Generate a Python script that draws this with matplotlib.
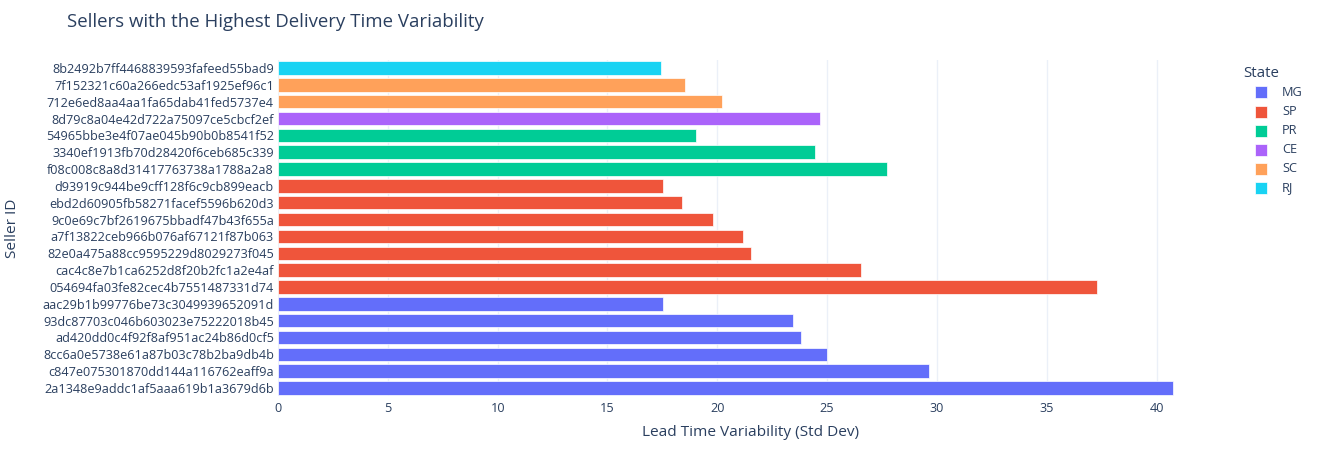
import matplotlib
matplotlib.use("Agg")
import matplotlib.pyplot as plt
from matplotlib.patches import Rectangle

plt.rcParams['font.family'] = ['Open Sans', 'DejaVu Sans']

# Data (bottom to top)
sellers = [
    "2a1348e9addc1af5aaa619b1a3679d6b",
    "c847e075301870dd144a116762eaff9a",
    "8cc6a0e5738e61a87b03c78b2ba9db4b",
    "ad420dd0c4f92f8af951ac24b86d0cf5",
    "93dc87703c046b603023e75222018b45",
    "aac29b1b99776be73c3049939652091d",
    "054694fa03fe82cec4b7551487331d74",
    "cac4c8e7b1ca6252d8f20b2fc1a2e4af",
    "82e0a475a88cc9595229d8029273f045",
    "a7f13822ceb966b076af67121f87b063",
    "9c0e69c7bf2619675bbadf47b43f655a",
    "ebd2d60905fb58271facef5596b620d3",
    "d93919c944be9cff128f6c9cb899eacb",
    "f08c008c8a8d31417763738a1788a2a8",
    "3340ef1913fb70d28420f6ceb685c339",
    "54965bbe3e4f07ae045b90b0b8541f52",
    "8d79c8a04e42d722a75097ce5cbcf2ef",
    "712e6ed8aa4aa1fa65dab41fed5737e4",
    "7f152321c60a266edc53af1925ef96c1",
    "8b2492b7ff4468839593fafeed55bad9",
]
lead_std = [40.73, 29.63, 25.0, 23.83, 23.46, 17.53,
            37.29, 26.56, 21.53, 21.17, 19.81, 18.39, 17.52,
            27.74, 24.43, 19.01,
            24.69,
            20.23, 18.54,
            17.44]
states = ["MG"] * 6 + ["SP"] * 7 + ["PR"] * 3 + ["CE"] + ["SC"] * 2 + ["RJ"]
state_order = ["MG", "SP", "PR", "CE", "SC", "RJ"]
state_colors = {"MG": "#636EFA", "SP": "#EF553B", "PR": "#00CC96",
                "CE": "#AB63FA", "SC": "#FFA15A", "RJ": "#19D3F3"}

W, H = 1318, 450
fig = plt.figure(figsize=(W / 100, H / 100), dpi=100)
ax = fig.add_axes([278 / W, 1 - 396.4 / H, (1218 - 278) / W, (396.4 - 59.6) / H])

text_color = "#2a3f5f"
ypos = list(range(len(sellers)))
ax.barh(ypos, lead_std, height=0.8,
        color=[state_colors[s] for s in states],
        edgecolor="white", linewidth=0.5, zorder=3)

ax.set_xlim(0, 42.8)
ax.set_ylim(-0.5, len(sellers) - 0.5)
ax.set_yticks(ypos)
ax.set_yticklabels(sellers)
ax.set_xticks([0, 5, 10, 15, 20, 25, 30, 35, 40])
ax.tick_params(axis='both', length=0, labelsize=9.05, labelcolor=text_color)
ax.tick_params(axis='y', pad=3)
ax.tick_params(axis='x', pad=4)
ax.grid(axis='x', color="#EBF0F8", linewidth=1, zorder=0)
for sp in ax.spines.values():
    sp.set_visible(False)

fig.text(750 / W, 1 - 432 / H, "Lead Time Variability (Std Dev)", fontsize=11.1,
         color=text_color, ha='center', va='center')
fig.text(13 / W, 1 - 228 / H, "Seller ID", rotation=90, fontsize=11.1,
         color=text_color, ha='center', va='center')

fig.text(67 / W, 1 - 22 / H, "Sellers with the Highest Delivery Time Variability",
         fontsize=13.4, color=text_color, ha='left', va='center')

# Legend
fig.text(1243 / W, 1 - 73.5 / H, "State", fontsize=10.8, color=text_color,
         ha='left', va='center')
for i, s in enumerate(state_order):
    yc = 92.4 + i * 19.1
    fig.add_artist(Rectangle((1255 / W, 1 - (yc + 6) / H), 12 / W, 12 / H,
                             transform=fig.transFigure, facecolor=state_colors[s],
                             edgecolor="white", linewidth=0.5))
    fig.text(1282 / W, 1 - yc / H, s, fontsize=9.2, color=text_color,
             ha='left', va='center')

fig.savefig("out.png", dpi=100, facecolor="white")
